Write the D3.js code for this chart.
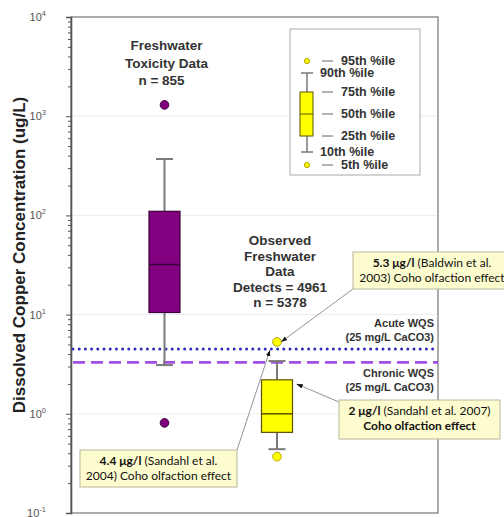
<!DOCTYPE html>
<html>
<head>
<meta charset="utf-8">
<script src="https://cdn.jsdelivr.net/npm/d3@7"></script>
<style>
  body { margin: 0; background: #fff; }
  svg { display: block; }
</style>
</head>
<body>
<svg id="chart" width="504" height="517"></svg>
<script>
// ---- data (dissolved copper, ug/L) ----
const categories = ["Freshwater Toxicity Data", "Observed Freshwater Data"];
// percentiles in order: 5th, 10th, 25th, 50th, 75th, 90th, 95th
const toxicityPercentiles = [0.81, 3.1, 10.5, 32, 110, 370, 1300];
const observedPercentiles = [0.37, 0.44, 0.65, 1.0, 2.2, 3.4, 5.3];
const majorTicks = [0.1, 1, 10, 100, 1000, 10000];
const tickExponents = ["-1", "0", "1", "2", "3", "4"];
const acuteWQS = 4.5;
const chronicWQS = 3.3;
const calloutValues = [5.3, 2, 4.4];
const calloutLeads = ["5.3 μg/l", "2 μg/l", "4.4 μg/l"];
const legendLabels = ["95th %ile", "90th %ile", "75th %ile", "50th %ile", "25th %ile", "10th %ile", "5th %ile"];

const svg = d3.select("#chart");
const plot = { left: 71, right: 438, top: 17, bottom: 513 };

const y = d3.scaleLog().domain([0.1, 10000]).range([plot.bottom, plot.top]);
const x = d3.scalePoint().domain(categories).range([plot.left + 93.5, plot.left + 206]);

const sans = "'Liberation Sans', Arial, sans-serif";
const calloutFont = "Lato, 'Open Sans', sans-serif";

// arrowhead for callout leaders
svg.append("defs").append("marker")
  .attr("id", "arrow").attr("viewBox", "0 0 10 10")
  .attr("refX", 10).attr("refY", 5)
  .attr("markerWidth", 7).attr("markerHeight", 7)
  .attr("orient", "auto-start-reverse")
  .append("path").attr("d", "M0,1.5 L10,5 L0,8.5 z").attr("fill", "#111");

// faint decade gridlines
svg.append("g").selectAll("line").data(majorTicks.slice(1, -1)).join("line")
  .attr("x1", plot.left).attr("x2", plot.right)
  .attr("y1", d => y(d)).attr("y2", d => y(d))
  .attr("stroke", "#ececec").attr("stroke-width", 1);

// frame
svg.append("rect")
  .attr("x", plot.left).attr("y", plot.top)
  .attr("width", plot.right - plot.left).attr("height", plot.bottom - plot.top)
  .attr("fill", "none").attr("stroke", "#777").attr("stroke-width", 1.2);

// y axis: major and minor log ticks
const minorTicks = [];
for (let e = -1; e < 4; e++) for (let m = 2; m <= 9; m++) minorTicks.push(m * Math.pow(10, e));

const axisG = svg.append("g").attr("transform", `translate(${plot.left},0)`);
axisG.call(d3.axisLeft(y).tickValues(majorTicks).tickSize(5).tickFormat(""));
axisG.append("g").call(d3.axisLeft(y).tickValues(minorTicks).tickSize(3).tickFormat(""))
  .select(".domain").remove();
axisG.selectAll("line").attr("stroke", "#555");
axisG.select(".domain").attr("stroke", "#555").attr("stroke-width", 1.6);

// tick labels as 10 with a superscript exponent
const tl = svg.append("g").selectAll("text").data(majorTicks).join("text")
  .attr("x", 46).attr("y", d => y(d) + 4)
  .attr("text-anchor", "end")
  .attr("font-family", sans).attr("font-size", 11).attr("fill", "#555");
tl.append("tspan").text("10");
tl.append("tspan").attr("dy", -5).attr("font-size", 7.5).text((d, i) => tickExponents[i]);

// axis title
svg.append("text")
  .attr("transform", `translate(25,255) rotate(-90)`)
  .attr("text-anchor", "middle")
  .attr("font-family", sans).attr("font-weight", "bold").attr("font-size", 17)
  .attr("fill", "#222")
  .text("Dissolved Copper Concentration (ug/L)");

// water quality standard lines
svg.append("line")
  .attr("x1", plot.left + 2).attr("x2", plot.right)
  .attr("y1", y(acuteWQS)).attr("y2", y(acuteWQS))
  .attr("stroke", "#2c2cb8").attr("stroke-width", 3)
  .attr("stroke-linecap", "round").attr("stroke-dasharray", "0,6.2");
svg.append("line")
  .attr("x1", plot.left + 2).attr("x2", plot.right)
  .attr("y1", y(chronicWQS)).attr("y2", y(chronicWQS))
  .attr("stroke", "#a24ee4").attr("stroke-width", 2.6)
  .attr("stroke-dasharray", "12,6");

// WQS labels
const wqsLabel = (lines, yBase) => {
  svg.append("g").selectAll("text").data(lines).join("text")
    .attr("x", 434).attr("y", (d, i) => yBase + i * 14)
    .attr("text-anchor", "end")
    .attr("font-family", sans).attr("font-weight", "bold").attr("font-size", 11)
    .attr("fill", "#333").text(d => d);
};
wqsLabel(["Acute WQS", "(25 mg/L CaCO3)"], y(acuteWQS) - 22);
wqsLabel(["Chronic WQS", "(25 mg/L CaCO3)"], y(chronicWQS) + 15);

// box plots
const series = [
  { cat: categories[0], p: toxicityPercentiles, fill: "#800080", edge: "#3a003a", dotEdge: "#3a003a" },
  { cat: categories[1], p: observedPercentiles, fill: "#ffff00", edge: "#5a5200", dotEdge: "#b5a800" }
];
const boxW = 31, capW = 17;
series.forEach(s => {
  const cx = x(s.cat);
  const [p5, p10, p25, p50, p75, p90, p95] = s.p;
  const g = svg.append("g");
  g.append("line").attr("x1", cx).attr("x2", cx).attr("y1", y(p90)).attr("y2", y(p75))
    .attr("stroke", "#7a7a7a").attr("stroke-width", 2);
  g.append("line").attr("x1", cx).attr("x2", cx).attr("y1", y(p25)).attr("y2", y(p10))
    .attr("stroke", "#7a7a7a").attr("stroke-width", 2);
  [p10, p90].forEach(v => g.append("line")
    .attr("x1", cx - capW / 2).attr("x2", cx + capW / 2).attr("y1", y(v)).attr("y2", y(v))
    .attr("stroke", "#7a7a7a").attr("stroke-width", 2));
  g.append("rect").attr("x", cx - boxW / 2).attr("y", y(p75))
    .attr("width", boxW).attr("height", y(p25) - y(p75))
    .attr("fill", s.fill).attr("stroke", s.edge).attr("stroke-width", 1.2);
  g.append("line").attr("x1", cx - boxW / 2).attr("x2", cx + boxW / 2)
    .attr("y1", y(p50)).attr("y2", y(p50)).attr("stroke", s.edge).attr("stroke-width", 1.5);
  [p5, p95].forEach(v => g.append("circle").attr("cx", cx).attr("cy", y(v)).attr("r", 4.3)
    .attr("fill", s.fill).attr("stroke", s.dotEdge).attr("stroke-width", 1));
});

// group annotations
const groupText = (lines, cx, yBase, step, dx) => {
  svg.append("g").selectAll("text").data(lines).join("text")
    .attr("x", (d, i) => cx + (dx[i] || 0)).attr("y", (d, i) => yBase + i * step)
    .attr("text-anchor", "middle")
    .attr("font-family", sans).attr("font-weight", "bold").attr("font-size", 13.5)
    .attr("fill", "#333").text(d => d);
};
groupText(["Freshwater", "Toxicity Data", "n = 855"], x(categories[0]) + 2, 50, 17.5, [0, 0, -5]);
groupText(["Observed", "Freshwater", "Data", "Detects = 4961", "n = 5378"], x(categories[1]) + 3, 245, 15.5, []);

// legend
const lg = svg.append("g");
lg.append("rect").attr("x", 290).attr("y", 29).attr("width", 130).attr("height", 146)
  .attr("fill", "#fff").attr("stroke", "#aaa").attr("stroke-width", 1);
const lx = 307;
const lRows = { p95: 61, p90: 73, p75: 92, p50: 114, p25: 136, p10: 152, p5: 165 };
lg.append("line").attr("x1", lx).attr("x2", lx).attr("y1", lRows.p90).attr("y2", lRows.p10)
  .attr("stroke", "#7a7a7a").attr("stroke-width", 1.5);
[lRows.p90, lRows.p10].forEach(v => lg.append("line")
  .attr("x1", lx - 6).attr("x2", lx + 6).attr("y1", v).attr("y2", v)
  .attr("stroke", "#7a7a7a").attr("stroke-width", 1.5));
lg.append("rect").attr("x", lx - 7).attr("y", lRows.p75).attr("width", 13)
  .attr("height", lRows.p25 - lRows.p75).attr("fill", "#ffff00").attr("stroke", "#5a5200").attr("stroke-width", 1);
lg.append("line").attr("x1", lx - 7).attr("x2", lx + 6).attr("y1", lRows.p50).attr("y2", lRows.p50)
  .attr("stroke", "#5a5200").attr("stroke-width", 1);
[lRows.p95, lRows.p5].forEach(v => lg.append("circle").attr("cx", lx).attr("cy", v).attr("r", 2.6)
  .attr("fill", "#ffff00").attr("stroke", "#b5a800").attr("stroke-width", 1));
const rowKeys = ["p95", "p90", "p75", "p50", "p25", "p10", "p5"];
rowKeys.forEach((k, i) => {
  const side = (k === "p90" || k === "p10");
  if (!side) {
    lg.append("line").attr("x1", 322).attr("x2", 333).attr("y1", lRows[k]).attr("y2", lRows[k])
      .attr("stroke", "#666").attr("stroke-width", 1);
  }
  lg.append("text").attr("x", side ? 320 : 341).attr("y", lRows[k] + 4)
    .attr("font-family", sans).attr("font-weight", "bold").attr("font-size", 12.5)
    .attr("fill", "#333").text(legendLabels[i]);
});

// callouts
const callout = (box, lines, tip, from) => {
  const g = svg.append("g");
  g.append("line").attr("x1", from[0]).attr("y1", from[1]).attr("x2", tip[0]).attr("y2", tip[1])
    .attr("stroke", "#888").attr("stroke-width", 0.9).attr("marker-end", "url(#arrow)");
  g.append("rect").attr("x", box.x).attr("y", box.y).attr("width", box.w).attr("height", box.h)
    .attr("fill", "#fdfcce").attr("stroke", "#b9b79c").attr("stroke-width", 1);
  lines.forEach((ln, i) => {
    const t = g.append("text").attr("x", box.x + box.w / 2 + (box.dx || 0)).attr("y", box.y + 15 + i * 15)
      .attr("text-anchor", "middle").attr("font-family", calloutFont).attr("font-size", 12)
      .attr("fill", "#111");
    ln.forEach(seg => t.append("tspan").attr("font-weight", seg.b ? "bold" : "normal").text(seg.t));
  });
};
const xObs = x(categories[1]);
callout({ x: 353, y: 252, w: 170, h: 37, dx: -6 },
  [[{ t: calloutLeads[0], b: true }, { t: " (Baldwin et al." }],
   [{ t: "2003) Coho olfaction effect" }]],
  [xObs + 4, y(calloutValues[0])], [353, 289]);
callout({ x: 339, y: 400, w: 161, h: 39 },
  [[{ t: calloutLeads[1], b: true }, { t: " (Sandahl et al. 2007)" }],
   [{ t: "Coho olfaction effect", b: true }]],
  [xObs + boxW / 2 + 4, y(calloutValues[1])], [339, 402]);
callout({ x: 80, y: 450, w: 157, h: 37 },
  [[{ t: calloutLeads[2], b: true }, { t: " (Sandahl et al." }],
   [{ t: "2004) Coho olfaction effect" }]],
  [xObs - 7, y(calloutValues[2])], [237, 450]);
</script>
</body>
</html>
